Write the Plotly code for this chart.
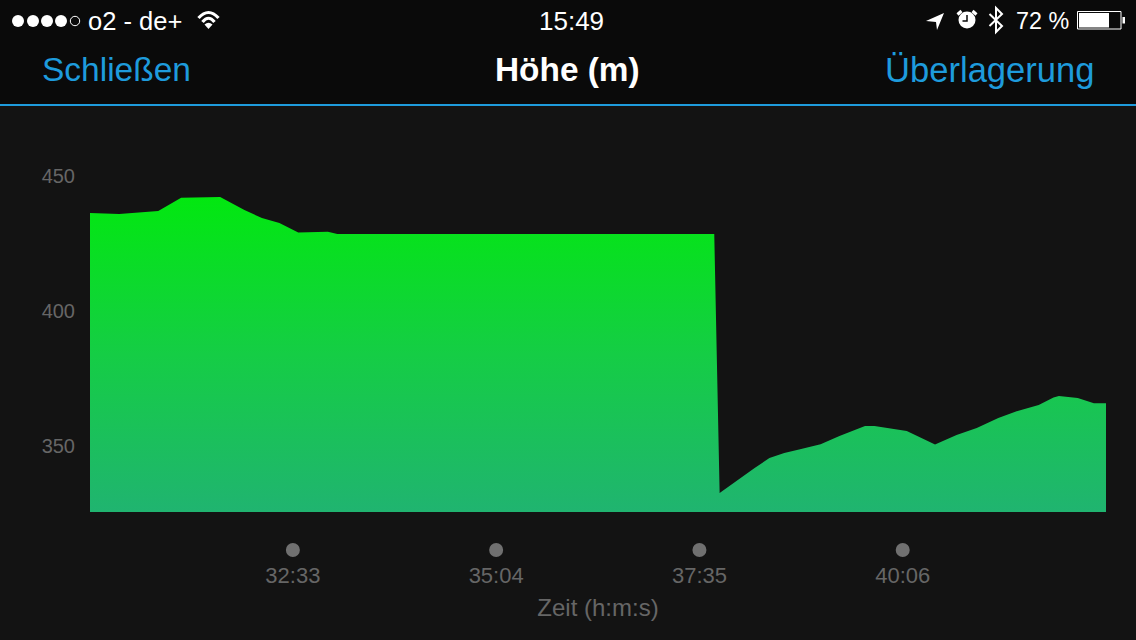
import plotly.graph_objects as go

# Elapsed time in seconds and altitude in metres
elapsed_s = [1802, 1824, 1853, 1870, 1899, 1917, 1930, 1943, 1957, 1979, 1986, 2266,
             2270, 2282, 2296, 2307, 2318, 2329, 2345, 2359, 2378, 2385, 2409, 2430,
             2446, 2461, 2477, 2492, 2507, 2518, 2522, 2536, 2548, 2557]
altitude_m = [436.3, 435.9, 437.0, 441.9, 442.2, 437.4, 434.4, 432.6, 429.1, 429.3, 428.5, 428.5,
              332.6, 337.0, 341.9, 345.6, 347.4, 348.7, 350.7, 353.7, 357.4, 357.4, 355.6, 350.6,
              354.1, 356.7, 360.4, 363.1, 365.2, 368.0, 368.5, 367.8, 365.9, 365.9]
x_tick_s = [1953, 2104, 2255, 2406]
x_tick_labels = ["32:33", "35:04", "37:35", "40:06"]
y_ticks = [350, 400, 450]
y_floor = 325.6
y_ceiling = 459.6
x_min, x_max = 1802.3, 2557

# Page geometry
W, H = 1136, 640
L, R, T, B = 90, 1106, 150, 512
BLUE = "#1e9bdc"
GREY = "#666666"


def px(x):
    return (x - L) / (R - L)


def py(y):
    return (B - y) / (B - T)


def path(cmds):
    out = []
    for c in cmds:
        op, nums = c[0], c[1:]
        pairs = [f"{px(nums[i]):.5f},{py(nums[i + 1]):.5f}" for i in range(0, len(nums), 2)]
        out.append(op + " ".join(pairs))
    return " ".join(out)


def rect(x0, y0, x1, y1, fill, line=None, width=0):
    return dict(type="rect", xref="paper", yref="paper", x0=px(x0), x1=px(x1), y0=py(y1), y1=py(y0),
                fillcolor=fill, line=dict(color=line or "rgba(0,0,0,0)", width=width), layer="below")


def circle(cx, cy, r, fill, line=None, width=0):
    return dict(type="circle", xref="paper", yref="paper", x0=px(cx - r), x1=px(cx + r), y0=py(cy + r), y1=py(cy - r),
                fillcolor=fill, line=dict(color=line or "rgba(0,0,0,0)", width=width), layer="above")


def stroke(cmds, color="white", width=2):
    return dict(type="path", xref="paper", yref="paper", path=path(cmds), line=dict(color=color, width=width),
                fillcolor="rgba(0,0,0,0)", layer="above")


def solid(cmds, color="white"):
    return dict(type="path", xref="paper", yref="paper", path=path(cmds), line=dict(color=color, width=0),
                fillcolor=color, layer="above")


shapes = [
    rect(0, 0, W, 104, "#0a0a0a"),
    rect(0, 104, W, 106, BLUE),
]
# signal dots
for cx in [18, 33, 47, 61]:
    shapes.append(circle(cx, 21, 6, "white"))
shapes.append(circle(75, 21, 4.7, "rgba(0,0,0,0)", "white", 1))
# wifi
shapes += [
    stroke([("M", 198.5, 18), ("Q", 208.5, 7, 218.5, 18)], width=3.2),
    stroke([("M", 202.5, 22), ("Q", 208.5, 14.5, 214.5, 22)], width=3.2),
    solid([("M", 204.5, 24.5), ("Q", 208.5, 21, 212.5, 24.5), ("L", 208.5, 29), ("Z",)]),
]
# location arrow
shapes.append(solid([("M", 944, 13), ("L", 926, 21), ("L", 936, 22), ("L", 937, 30), ("Z",)]))
# alarm clock
shapes += [
    circle(967, 20, 8.5, "white"),
    stroke([("M", 967, 15), ("L", 967, 21), ("L", 962.5, 21)], color="#0a0a0a", width=1.5),
    stroke([("M", 957.5, 14.5), ("L", 961.5, 11)], width=3),
    stroke([("M", 976.5, 14.5), ("L", 972.5, 11)], width=3),
]
# bluetooth
shapes.append(stroke([("M", 989.5, 14), ("L", 1002, 26), ("L", 996, 32), ("L", 996, 8), ("L", 1002, 14), ("L", 989.5, 26)], width=2))
# battery
shapes += [
    dict(type="rect", xref="paper", yref="paper", x0=px(1077.5), x1=px(1121), y0=py(29), y1=py(11.5),
         fillcolor="rgba(0,0,0,0)", line=dict(color="white", width=1), layer="above"),
    rect(1079, 13, 1109, 27.5, "white"),
    rect(1122.5, 17, 1125, 23.5, "white"),
]
shapes[-2]["layer"] = "above"
shapes[-1]["layer"] = "above"
# time axis dots, positioned by the x scale
for t in x_tick_s:
    shapes.append(dict(type="circle", xref="x", yref="paper", xsizemode="pixel", ysizemode="pixel",
                       xanchor=t, yanchor=py(550), x0=-7, x1=7, y0=-7, y1=7,
                       fillcolor="#707070", line=dict(width=0), layer="above"))

FONT = "Liberation Sans, Arial, sans-serif"


def label(text, x, y, size, color="white", anchor="center"):
    return dict(text=text, xref="paper", yref="paper", x=px(x), y=py(y), xanchor=anchor, yanchor="middle",
                showarrow=False, font=dict(family=FONT, size=size, color=color))


annotations = [
    label("o2 - de+", 86, 21, 25.5, anchor="left"),
    label("15:49", 571, 21, 26),
    label("72 %", 1014, 21, 23.3, anchor="left"),
    label("Schließen", 40, 70, 33.5, BLUE, "left"),
    label("<b>Höhe (m)</b>", 567.5, 70, 33.4),
    label("Überlagerung", 1097, 70, 34.6, BLUE, "right"),
]

fig = go.Figure()
fig.add_trace(go.Scatter(
    x=elapsed_s + [x_max, x_min],
    y=altitude_m + [y_floor, y_floor],
    mode="lines",
    line=dict(width=0, color="rgba(0,0,0,0)"),
    fill="toself",
    fillgradient=dict(type="vertical", start=442.2, stop=y_floor,
                      colorscale=[[0, "#02e810"], [0.5, "#15cd45"], [1, "#20b470"]]),
    hoverinfo="skip",
    showlegend=False,
))

fig.update_layout(
    width=W, height=H,
    margin=dict(l=L, r=W - R, t=T, b=H - B, pad=0),
    paper_bgcolor="#131313",
    plot_bgcolor="#131313",
    font=dict(family=FONT, color=GREY),
    shapes=shapes,
    annotations=annotations,
    showlegend=False,
    xaxis=dict(
        range=[x_min, x_max], tickmode="array", tickvals=x_tick_s, ticktext=x_tick_labels,
        showgrid=False, zeroline=False, showline=False, ticks="",
        ticklabelstandoff=48, tickfont=dict(size=22, color=GREY),
        title=dict(text="Zeit (h:m:s)", font=dict(size=24, color=GREY), standoff=12),
        fixedrange=True,
    ),
    yaxis=dict(
        range=[y_floor, y_ceiling], tickmode="array", tickvals=y_ticks,
        showgrid=False, zeroline=False, showline=False, ticks="",
        ticklabelstandoff=14, tickfont=dict(size=20, color=GREY),
        fixedrange=True,
    ),
)

fig.write_html("out.html", config=dict(displayModeBar=False),
               post_script="document.body.style.margin='0';")
